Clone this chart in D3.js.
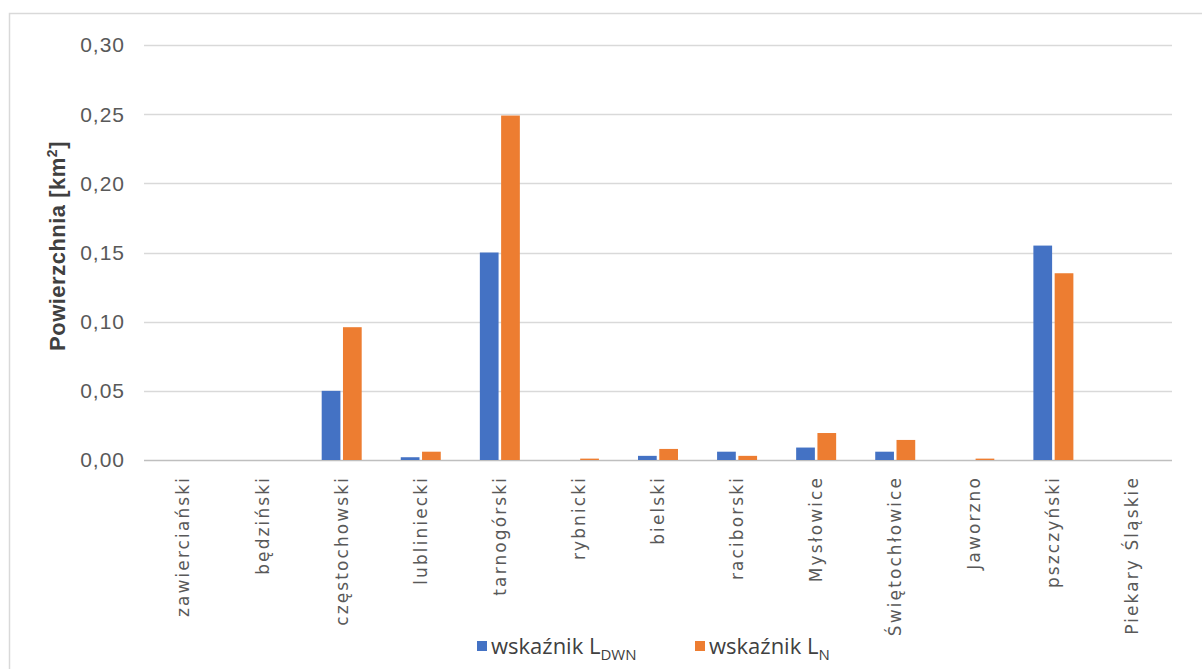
<!DOCTYPE html>
<html>
<head>
<meta charset="utf-8">
<script src="https://cdn.jsdelivr.net/npm/d3@7"></script>
<style>
  body { margin: 0; background: #fff; }
  svg { display: block; }
</style>
</head>
<body>
<svg width="1202" height="669"></svg>
<script>
let categories = ["zawierciański", "będziński", "częstochowski", "lubliniecki", "tarnogórski",
  "rybnicki", "bielski", "raciborski", "Mysłowice", "Świętochłowice", "Jaworzno",
  "pszczyński", "Piekary Śląskie"];
let lDwn = [0, 0, 0.050, 0.002, 0.150, 0, 0.003, 0.006, 0.009, 0.006, 0, 0.155, 0];
let lN = [0, 0, 0.096, 0.006, 0.249, 0.001, 0.008, 0.003, 0.0195, 0.0145, 0.001, 0.135, 0];
let yTicks = [0, 0.05, 0.10, 0.15, 0.20, 0.25, 0.30];

let svg = d3.select("svg"),
    margin = {top: 45, right: 30, bottom: 209, left: 144},
    width = 1172 - margin.left,
    height = 460 - margin.top;

// outer frame
svg.append("rect")
    .attr("x", 9.5).attr("y", 13.5)
    .attr("width", 1220).attr("height", 700)
    .attr("fill", "none")
    .attr("stroke", "#d9d9d9")
    .attr("stroke-width", 1.5);

let x0 = d3.scaleBand().domain(categories).range([0, width]).paddingInner(0).paddingOuter(0);
let x1 = d3.scaleBand().domain(["dwn", "n"]).range([x0.bandwidth() / 2 - 20, x0.bandwidth() / 2 + 20]).paddingInner(0.12);
let y = d3.scaleLinear().domain([0, 0.30]).range([height, 0]);
let color = {dwn: "#4472c4", n: "#ed7d31"};
let fmt = (d) => d3.format(".2f")(d).replace(".", ",");

let g = svg.append("g")
    .attr("transform", "translate(" + margin.left + "," + margin.top + ")");

// gridlines
g.append("g")
    .selectAll("line")
    .data(yTicks)
    .enter().append("line")
      .attr("x1", 0).attr("x2", width)
      .attr("y1", (d) => Math.round(y(d)) + 0.5)
      .attr("y2", (d) => Math.round(y(d)) + 0.5)
      .attr("stroke", (d) => d === 0 ? "#bfbfbf" : "#d9d9d9")
      .attr("stroke-width", 1.3);

// y tick labels
g.append("g")
  .selectAll("text")
  .data(yTicks)
  .enter().append("text")
    .attr("x", -19)
    .attr("y", (d) => y(d))
    .attr("dy", "0.35em")
    .attr("text-anchor", "end")
    .style("font", "21px 'Liberation Sans', Arial, sans-serif")
    .style("letter-spacing", "1px")
    .style("fill", "#595959")
    .text(fmt);

// bars
let grp = g.selectAll(".cat")
  .data(categories.map((c, i) => ({c: c, dwn: lDwn[i], n: lN[i]})))
  .enter().append("g")
    .attr("class", "cat")
    .attr("transform", (d) => "translate(" + x0(d.c) + ",0)");

grp.selectAll("rect")
  .data((d) => ["dwn", "n"].map((k) => ({k: k, v: d[k]})))
  .enter().append("rect")
    .attr("x", (d) => x1(d.k))
    .attr("width", x1.bandwidth())
    .attr("y", (d) => y(d.v))
    .attr("height", (d) => y(0) - y(d.v))
    .attr("fill", (d) => color[d.k]);

// category labels
g.append("g")
  .selectAll("text")
  .data(categories)
  .enter().append("text")
    .attr("transform", (d) => "translate(" + (x0(d) + x0.bandwidth() / 2) + "," + (height + 16) + ") rotate(-90)")
    .attr("dy", "0.35em")
    .attr("text-anchor", "end")
    .style("font", "17px 'DejaVu Sans', sans-serif")
    .style("letter-spacing", "2.1px")
    .style("fill", "#595959")
    .text((d) => d);

// y axis title
svg.append("text")
    .attr("transform", "translate(57," + 246 + ") rotate(-90)")
    .attr("text-anchor", "middle")
    .attr("dy", "0.35em")
    .style("font", "bold 22px 'Liberation Sans', Arial, sans-serif")
    .style("letter-spacing", "0.5px")
    .style("fill", "#404040")
    .text("Powierzchnia [km")
  .append("tspan").attr("baseline-shift", "super").style("font-size", "14px").text("2")
  .select(function() { return this.parentNode; })
  .append("tspan").text("]");

// legend
let legend = svg.append("g").attr("transform", "translate(477,646)");
let items = [{k: "dwn", sub: "DWN", x: 0}, {k: "n", sub: "N", x: 218}];
items.forEach((it) => {
  let lg = legend.append("g").attr("transform", "translate(" + it.x + ",0)");
  lg.append("rect")
    .attr("x", 0).attr("y", -5)
    .attr("width", 10).attr("height", 10)
    .attr("fill", color[it.k]);
  let t = lg.append("text")
    .attr("x", 14).attr("y", 0).attr("dy", "0.35em")
    .style("font", "22px 'Open Sans', sans-serif")
    .style("fill", "#404040")
    .text("wskaźnik L");
  t.append("tspan").attr("dy", "6").style("font-size", "15px").text(it.sub);
});
</script>
</body>
</html>
